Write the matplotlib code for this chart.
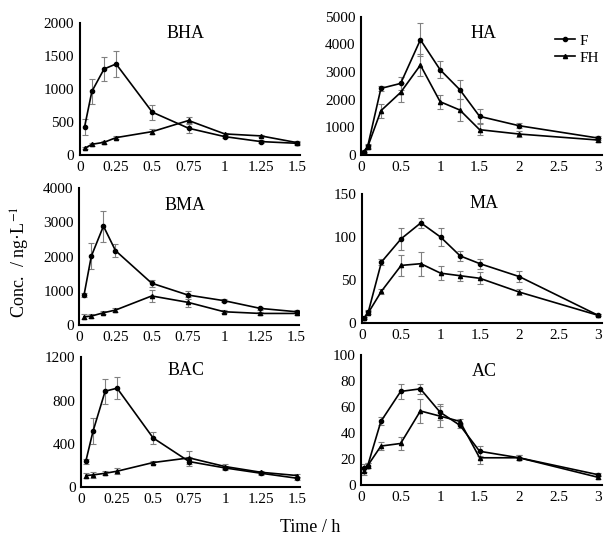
import numpy as np
import matplotlib
matplotlib.use("Agg")
import matplotlib.pyplot as plt
from matplotlib.lines import Line2D

plt.rcParams['font.family'] = ['Liberation Serif', 'DejaVu Serif']
plt.rcParams['mathtext.fontset'] = 'stix'

# sampling times (h)
t_short = [0.033, 0.083, 0.167, 0.25, 0.5, 0.75, 1, 1.25, 1.5]
t_long = [0.033, 0.083, 0.25, 0.5, 0.75, 1, 1.25, 1.5, 2, 3]

# BHA
bha_f = [430, 962, 1301, 1377, 648, 405, 278, 203, 177]
bha_f_sd = [120, 195, 185, 200, 115, 75, 20, 20, 20]
bha_fh = [101, 162, 192, 263, 354, 522, 319, 289, 187]
bha_fh_sd = [15, 20, 20, 20, 35, 50, 20, 20, 20]

# HA
ha_f = [120, 320, 2410, 2590, 4170, 3084, 2361, 1398, 1060, 614]
ha_f_sd = [50, 80, 100, 250, 600, 300, 350, 250, 100, 80]
ha_fh = [84, 300, 1602, 2265, 3253, 1928, 1627, 916, 759, 542]
ha_fh_sd = [40, 80, 250, 350, 400, 250, 400, 200, 100, 80]

# BMA
bma_f = [880, 2010, 2890, 2176, 1225, 880, 715, 490, 392]
bma_f_sd = [60, 380, 450, 200, 100, 130, 50, 40, 40]
bma_fh = [245, 265, 363, 441, 853, 667, 392, 343, 343]
bma_fh_sd = [70, 60, 40, 60, 170, 150, 40, 40, 40]

# MA
ma_f = [6, 13, 71, 98, 116.5, 100, 78, 69, 54, 9]
ma_f_sd = [1, 2, 3, 13, 6, 10, 6, 6, 6, 1]
ma_fh = [6, 12, 37, 67, 69, 58, 55, 52, 36, 9]
ma_fh_sd = [1, 2, 3, 12, 14, 8, 6, 7, 3, 1]

# BAC
bac_f = [240, 517, 886, 914, 455, 237, 178, 129, 83]
bac_f_sd = [25, 120, 115, 100, 55, 40, 20, 15, 15]
bac_fh = [108, 114, 129, 148, 228, 271, 191, 138, 108]
bac_fh_sd = [25, 30, 20, 30, 15, 60, 20, 15, 15]

# AC
ac_f = [13, 15, 49, 72, 74, 56, 46, 26, 21, 8]
ac_f_sd = [3, 2, 3, 6, 4, 6, 2, 4, 2, 1]
ac_fh = [11, 15, 30, 32, 57, 53, 49, 21, 21, 6]
ac_fh_sd = [3, 2, 3, 5, 9, 8, 2, 5, 2, 1]

panels = [
    ("BHA", t_short, bha_f, bha_f_sd, bha_fh, bha_fh_sd, [0.132, 0.714, 0.364, 0.244], 1.52, 2000, [0, 500, 1000, 1500, 2000], (0.48, 0.92)),
    ("HA", t_long, ha_f, ha_f_sd, ha_fh, ha_fh_sd, [0.597, 0.714, 0.398, 0.255], 3.05, 5000, [0, 1000, 2000, 3000, 4000, 5000], (0.51, 0.88)),
    ("BMA", t_short, bma_f, bma_f_sd, bma_fh, bma_fh_sd, [0.131, 0.400, 0.364, 0.253], 1.52, 4000, [0, 1000, 2000, 3000, 4000], (0.48, 0.876)),
    ("MA", t_long, ma_f, ma_f_sd, ma_fh, ma_fh_sd, [0.598, 0.404, 0.397, 0.238], 3.05, 150, [0, 50, 100, 150], (0.51, 0.93)),
    ("BAC", t_short, bac_f, bac_f_sd, bac_fh, bac_fh_sd, [0.134, 0.101, 0.362, 0.240], 1.52, 1200, [0, 400, 800, 1200], (0.48, 0.9)),
    ("AC", t_long, ac_f, ac_f_sd, ac_fh, ac_fh_sd, [0.597, 0.105, 0.398, 0.240], 3.05, 100, [0, 20, 40, 60, 80, 100], (0.51, 0.87)),
]

fig = plt.figure(figsize=(6.05, 5.42), dpi=100)

for name, t, f, fsd, fh, fhsd, rect, xmax, ymax, yticks, tpos in panels:
    ax = fig.add_axes(rect)
    ax.errorbar(t, f, yerr=fsd, color='black', marker='o', ms=3, lw=1.2,
                ecolor='#808080', elinewidth=0.8, capsize=2, capthick=0.8)
    ax.errorbar(t, fh, yerr=fhsd, color='black', marker='^', ms=3, lw=1.2,
                ecolor='#808080', elinewidth=0.8, capsize=2, capthick=0.8)
    ax.set_xlim(0, xmax)
    ax.set_ylim(0, ymax)
    ax.set_yticks(yticks)
    if xmax < 2:
        ax.set_xticks([0, 0.25, 0.5, 0.75, 1, 1.25, 1.5])
        ax.set_xticklabels(['0', '0.25', '0.5', '0.75', '1', '1.25', '1.5'])
    else:
        ax.set_xticks([0, 0.5, 1, 1.5, 2, 2.5, 3])
        ax.set_xticklabels(['0', '0.5', '1', '1.5', '2', '2.5', '3'])
    for s in ['top', 'right']:
        ax.spines[s].set_visible(False)
    for s in ['left', 'bottom']:
        ax.spines[s].set_linewidth(1.5)
    ax.tick_params(length=0, labelsize=11, pad=4)
    ax.patch.set_alpha(0)
    ax.text(tpos[0], tpos[1], name, transform=ax.transAxes, ha='center', va='center', fontsize=13)
    if name == "HA":
        handles = [Line2D([], [], color='black', marker='o', ms=3, lw=1.2),
                   Line2D([], [], color='black', marker='^', ms=3, lw=1.2)]
        ax.legend(handles, ['F', 'FH'], loc='upper right', bbox_to_anchor=(1.02, 0.93),
                  frameon=False, fontsize=11, handlelength=1.3, handletextpad=0.3,
                  labelspacing=0.2, borderpad=0)

fig.text(0.033, 0.517, 'Conc.  / ng·L$^{-1}$', rotation=90, ha='center', va='center', fontsize=13)
fig.text(0.512, 0.026, 'Time / h', ha='center', va='center', fontsize=13)

fig.savefig('out.png', dpi=100)
